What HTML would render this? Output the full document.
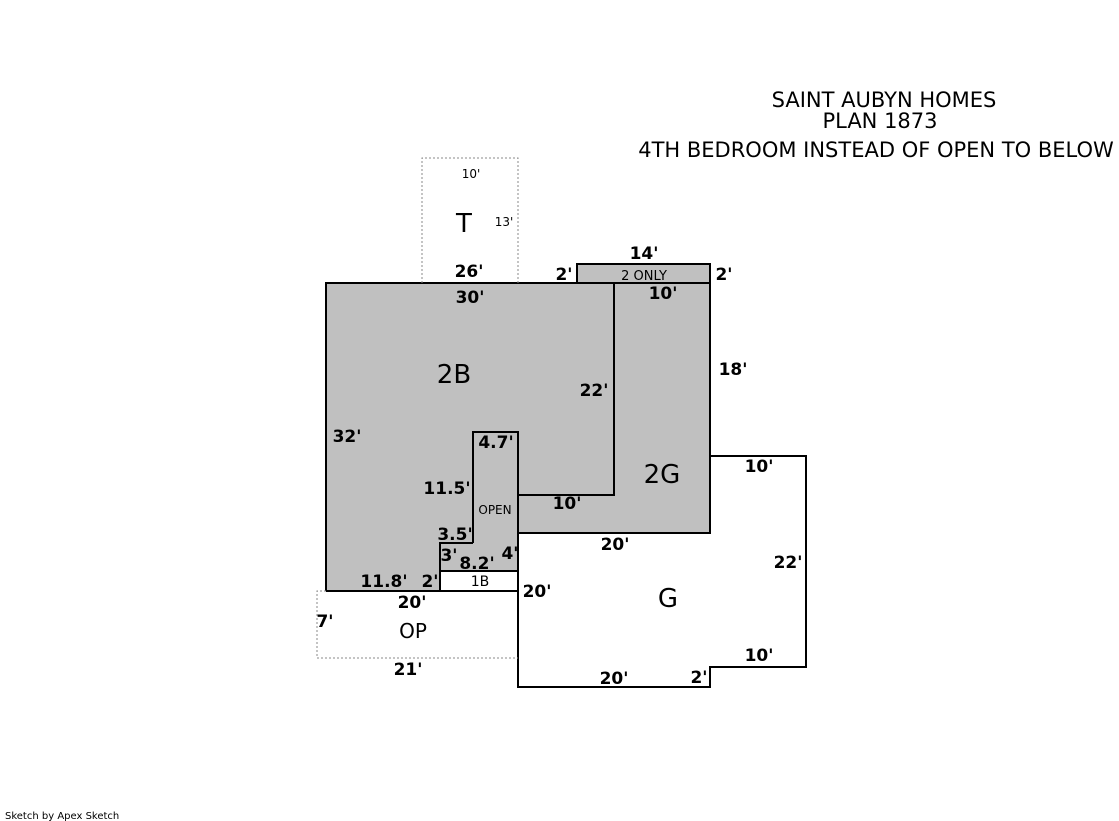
<!DOCTYPE html>
<html><head><style>
html,body{margin:0;padding:0;background:#fff;width:1119px;height:821px;overflow:hidden}
svg{display:block}
text{font-family:"DejaVu Sans","Liberation Sans",sans-serif}
</style></head><body>
<svg width="1119" height="821" viewBox="0 0 1119 821">
<polygon points="326,283 577,283 577,264 710,264 710,533 518,533 518,571 440,571 440,591 326,591" fill="#c0c0c0"/>
<g fill="none" stroke="#000" stroke-width="2">
<polyline points="326,591 326,283 614,283 614,495 518,495"/>
<line x1="326" y1="591" x2="518" y2="591"/>
<polygon points="577,264 710,264 710,283 577,283"/>
<polyline points="614,283 710,283 710,533 518,533"/>
<polyline points="473,543 473,432 518,432 518,687 710,687 710,667 806,667 806,456 710,456"/>
<polyline points="473,543 440,543 440,591"/>
<line x1="440" y1="571" x2="518" y2="571"/>
</g>
<g fill="none" stroke="#888" stroke-width="1" stroke-dasharray="2,2">
<polyline points="422,283 422,158 518,158 518,283"/>
<polyline points="326,591 317,591 317,658 518,658"/>
</g>
<g text-anchor="middle">
<text x="884" y="107" font-size="21">SAINT AUBYN HOMES</text>
<text x="880" y="128" font-size="21">PLAN 1873</text>
<text x="876" y="157" font-size="21">4TH BEDROOM INSTEAD OF OPEN TO BELOW</text>
<text x="464" y="232" font-size="26">T</text>
<text x="454" y="383" font-size="26">2B</text>
<text x="662" y="483" font-size="26">2G</text>
<text x="668" y="607" font-size="26">G</text>
<text x="413" y="638" font-size="20">OP</text>
<text x="644" y="280" font-size="13">2 ONLY</text>
<text x="495" y="514" font-size="12">OPEN</text>
<text x="480" y="586" font-size="14">1B</text>
<text x="471" y="178" font-size="12">10'</text>
<text x="504" y="226" font-size="12">13'</text>
<g font-weight="bold" font-size="17">
<text x="469" y="277">26'</text>
<text x="470" y="303">30'</text>
<text x="564" y="280">2'</text>
<text x="644" y="259">14'</text>
<text x="724" y="280">2'</text>
<text x="663" y="299">10'</text>
<text x="733" y="375">18'</text>
<text x="594" y="396">22'</text>
<text x="347" y="442">32'</text>
<text x="496" y="448">4.7'</text>
<text x="447" y="494">11.5'</text>
<text x="567" y="509">10'</text>
<text x="759" y="472">10'</text>
<text x="455" y="540">3.5'</text>
<text x="615" y="550">20'</text>
<text x="449" y="561">3'</text>
<text x="477" y="569">8.2'</text>
<text x="510" y="559">4'</text>
<text x="788" y="568">22'</text>
<text x="384" y="587">11.8'</text>
<text x="430" y="587">2'</text>
<text x="412" y="608">20'</text>
<text x="537" y="597">20'</text>
<text x="325" y="627">7'</text>
<text x="759" y="661">10'</text>
<text x="408" y="675">21'</text>
<text x="614" y="684">20'</text>
<text x="699" y="683">2'</text>
</g>
</g>
<text x="5" y="819" font-size="10" font-family="Liberation Sans,sans-serif">Sketch by Apex Sketch</text>
</svg>
</body></html>
